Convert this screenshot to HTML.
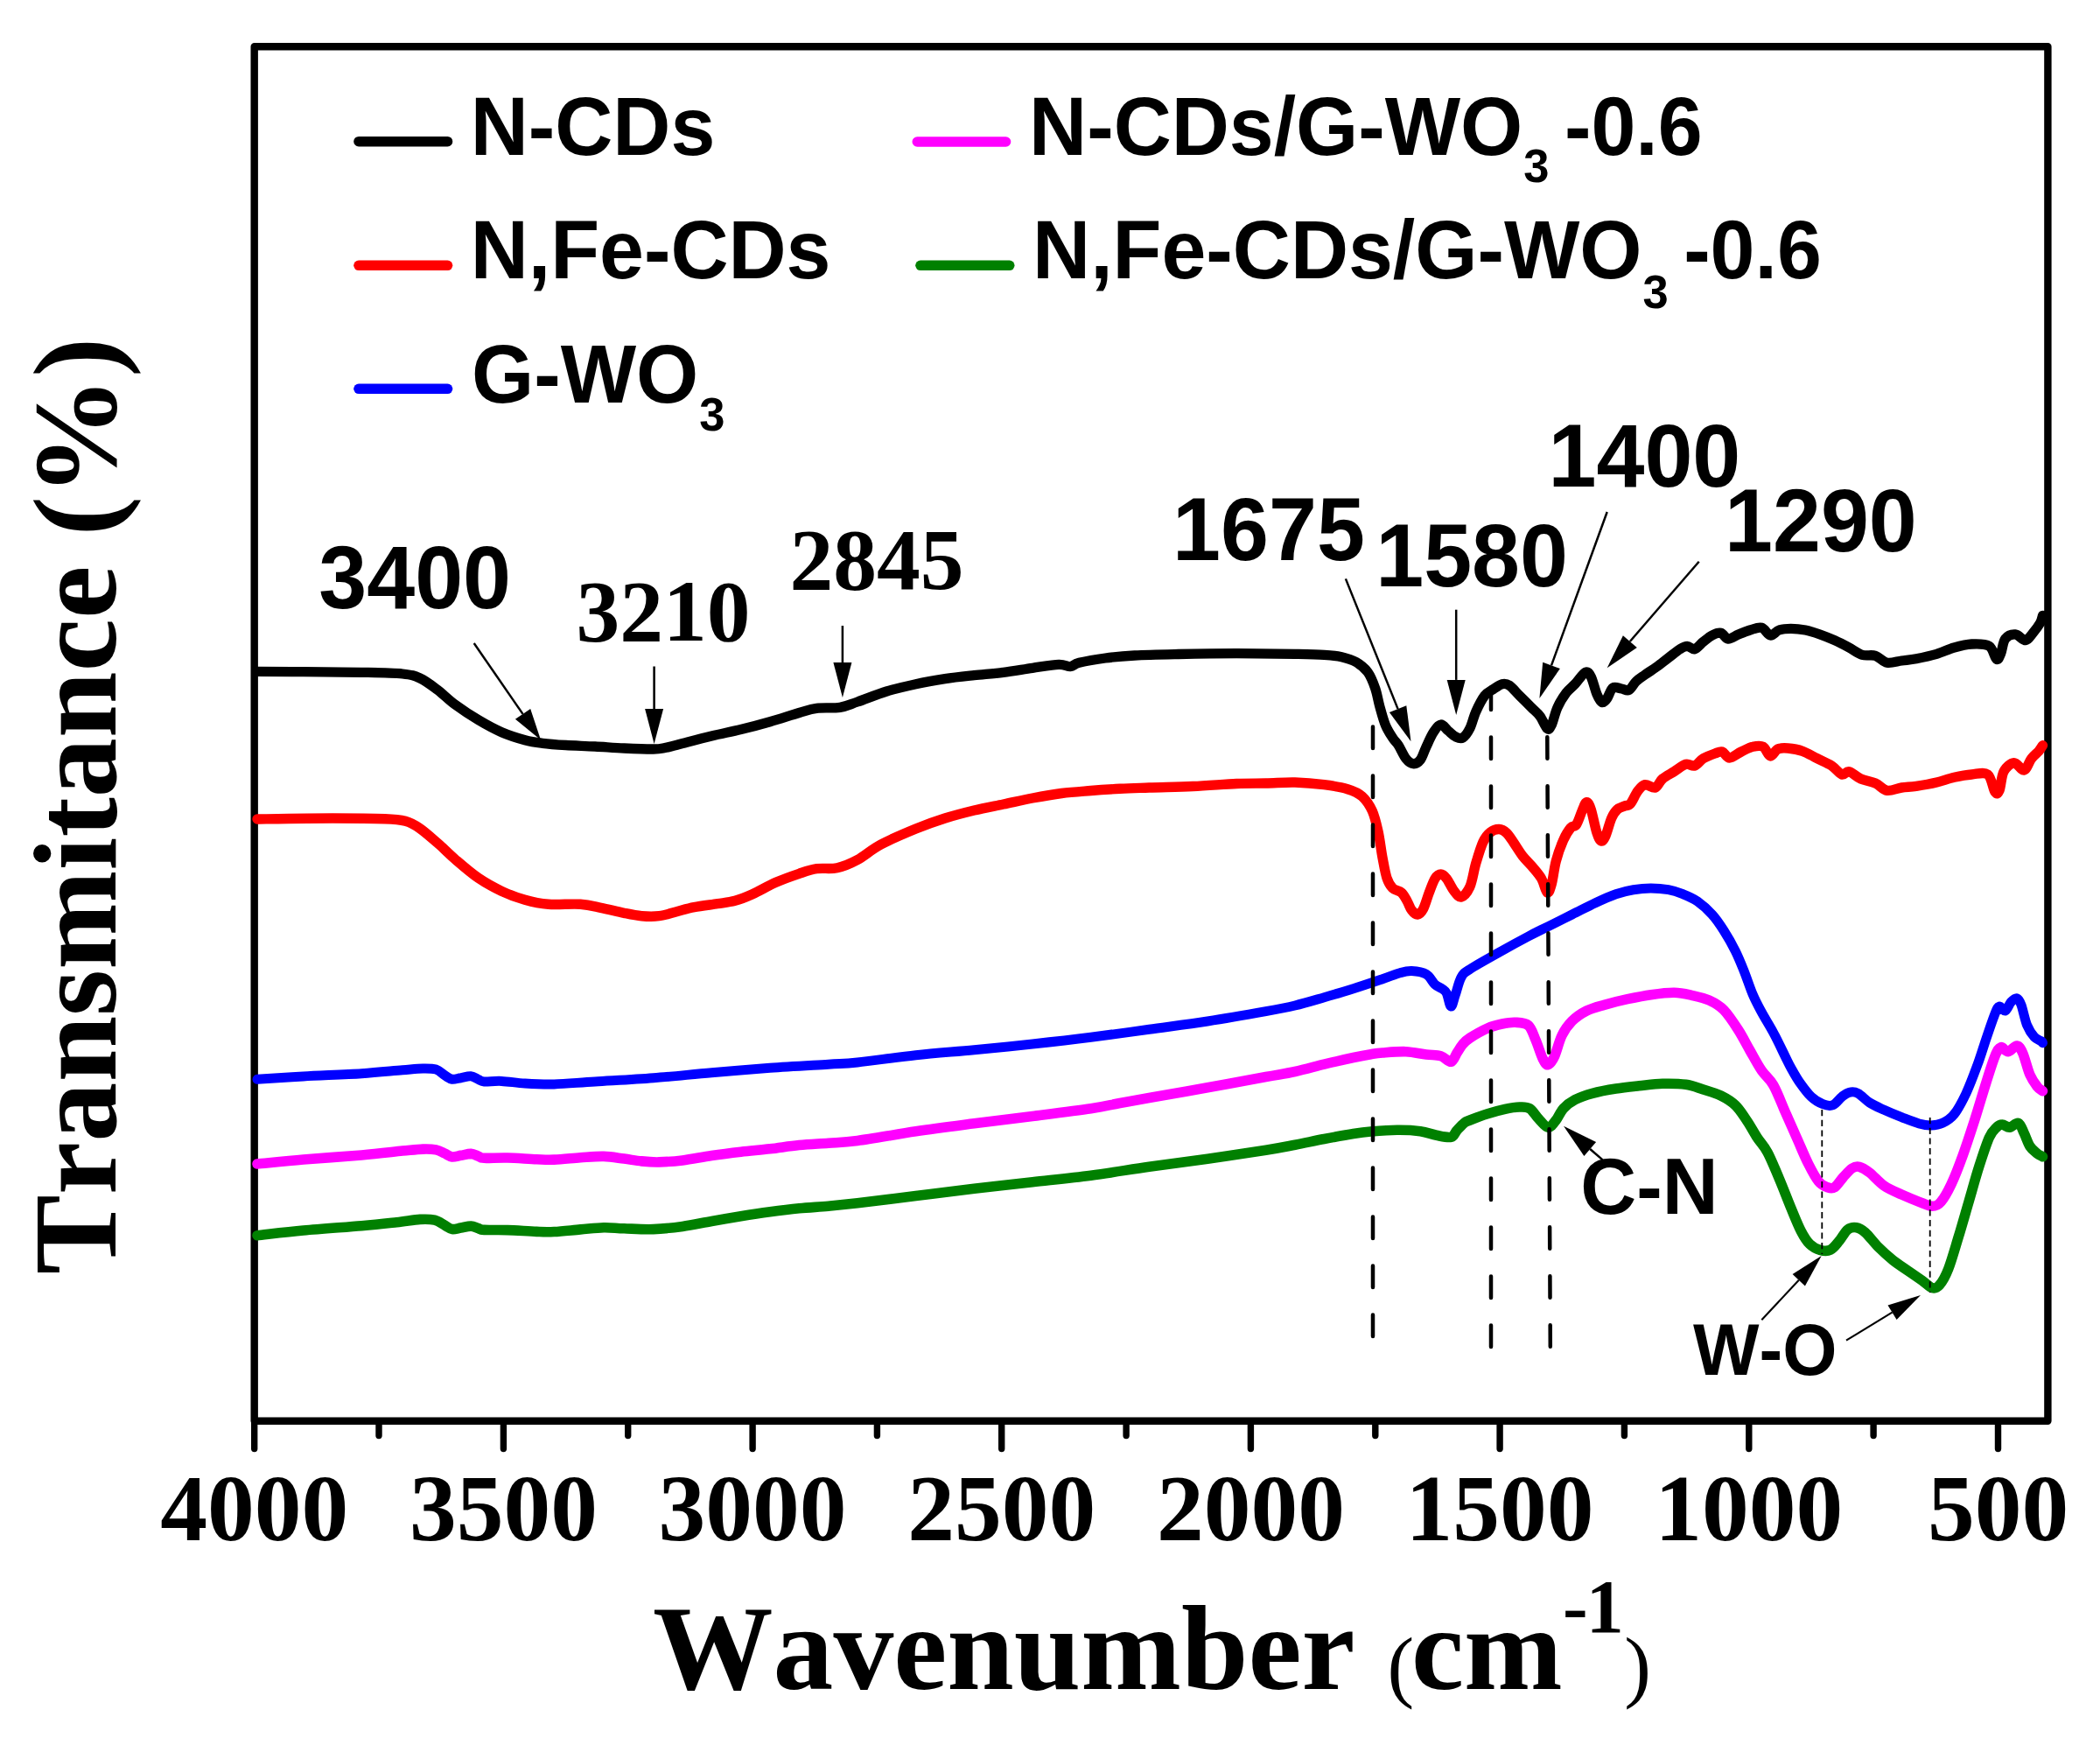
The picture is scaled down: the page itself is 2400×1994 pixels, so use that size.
<!DOCTYPE html>
<html lang="en"><head><meta charset="utf-8"><title>FTIR spectra</title>
<style>html,body{margin:0;padding:0;background:#fff}body{width:2400px;height:1994px;overflow:hidden}svg{display:block}text{font-kerning:none}.s{font-family:"Liberation Sans",Arial,Helvetica,sans-serif;font-weight:bold;fill:#000}.t{font-family:"Liberation Serif","Times New Roman",Times,serif;font-weight:bold;fill:#000}.c{fill:none;stroke-linecap:round;stroke-linejoin:round}</style></head><body>
<svg width="2400" height="1994" viewBox="0 0 2400 1994">
<rect width="2400" height="1994" fill="#fff"/>
<rect x="290.7" y="53.3" width="2049.7" height="1570.4" fill="none" stroke="#000" stroke-width="8.4" stroke-linejoin="round"/>
<path d="M290.7 1623.7 V1655.5M433.0 1623.7 V1640.5M575.4 1623.7 V1655.5M717.7 1623.7 V1640.5M860.1 1623.7 V1655.5M1002.4 1623.7 V1640.5M1144.7 1623.7 V1655.5M1287.1 1623.7 V1640.5M1429.4 1623.7 V1655.5M1571.8 1623.7 V1640.5M1714.1 1623.7 V1655.5M1856.4 1623.7 V1640.5M1998.8 1623.7 V1655.5M2141.1 1623.7 V1640.5M2283.5 1623.7 V1655.5" stroke="#000" stroke-width="7.4" stroke-linecap="round" fill="none"/>
<path class="c" d="M294.0 767.3C302.8 767.4 326.8 767.5 346.7 767.7C366.6 767.9 394.4 767.9 413.3 768.3C432.2 768.7 448.9 768.9 460.0 770.0C471.1 771.1 473.3 772.0 480.0 775.0C486.7 778.0 493.3 783.3 500.0 788.3C506.7 793.3 512.2 799.3 520.0 805.0C527.8 810.7 537.8 817.4 546.7 822.7C555.6 828.0 564.4 832.9 573.3 836.7C582.2 840.5 592.2 843.6 600.0 845.7C607.8 847.8 612.2 848.3 620.0 849.3C627.8 850.3 636.7 850.9 646.7 851.5C656.7 852.1 668.9 852.4 680.0 853.0C691.1 853.6 702.2 854.5 713.3 855.0C724.4 855.5 738.9 856.1 746.7 856.0C754.5 855.9 754.5 855.6 760.0 854.5C765.5 853.4 771.1 851.8 780.0 849.5C788.9 847.2 802.2 843.7 813.3 841.0C824.4 838.3 835.6 836.2 846.7 833.5C857.8 830.8 868.9 827.9 880.0 824.7C891.1 821.5 904.4 817.1 913.3 814.5C922.2 811.9 925.5 810.3 933.3 809.3C941.1 808.3 952.2 809.5 960.0 808.3C967.8 807.1 971.1 805.0 980.0 802.0C988.9 799.0 1002.2 793.4 1013.3 790.0C1024.4 786.6 1035.6 784.1 1046.7 781.7C1057.8 779.3 1068.9 777.4 1080.0 775.7C1091.1 774.0 1102.2 772.9 1113.3 771.7C1124.4 770.5 1135.6 769.7 1146.7 768.3C1157.8 766.9 1169.5 764.8 1180.0 763.3C1190.5 761.8 1202.8 759.6 1210.0 759.3C1217.2 759.0 1219.4 762.0 1223.3 761.7C1227.2 761.4 1226.6 758.9 1233.3 757.3C1240.0 755.7 1252.7 753.4 1263.3 752.0C1273.9 750.6 1282.8 749.8 1296.7 749.0C1310.6 748.2 1327.3 747.9 1346.7 747.5C1366.1 747.1 1391.1 746.7 1413.3 746.7C1435.5 746.7 1463.3 747.0 1480.0 747.3C1496.7 747.6 1504.4 747.7 1513.3 748.3C1522.2 748.9 1527.2 749.3 1533.3 750.7C1539.4 752.1 1545.0 753.8 1550.0 756.7C1555.0 759.6 1559.7 763.3 1563.3 768.3C1566.9 773.3 1569.5 780.3 1571.7 786.7C1573.9 793.1 1574.8 799.8 1576.7 806.7C1578.6 813.6 1580.8 822.2 1583.3 828.3C1585.8 834.4 1589.2 839.4 1591.7 843.3C1594.2 847.2 1595.8 847.8 1598.3 851.7C1600.8 855.6 1603.9 863.2 1606.7 866.7C1609.5 870.2 1612.2 872.4 1615.0 872.7C1617.8 873.0 1620.8 871.5 1623.3 868.3C1625.8 865.1 1627.5 858.6 1630.0 853.3C1632.5 848.0 1635.5 840.9 1638.3 836.7C1641.1 832.5 1643.9 828.3 1646.7 828.0C1649.5 827.7 1652.2 832.7 1655.0 835.0C1657.8 837.3 1660.5 840.4 1663.3 841.7C1666.1 843.0 1668.9 844.6 1671.7 843.0C1674.5 841.4 1677.5 837.0 1680.0 832.0C1682.5 827.0 1683.9 819.5 1686.7 813.3C1689.5 807.1 1693.4 799.3 1696.7 795.0C1700.0 790.7 1703.4 789.7 1706.7 787.5C1710.0 785.3 1713.7 782.4 1716.7 781.7C1719.8 781.0 1721.7 781.1 1725.0 783.3C1728.3 785.5 1732.5 790.8 1736.7 795.0C1740.9 799.2 1746.1 804.4 1750.0 808.3C1753.9 812.2 1757.0 814.3 1760.0 818.3C1763.0 822.3 1766.1 830.8 1768.3 832.5C1770.5 834.2 1771.3 832.3 1773.3 828.3C1775.2 824.3 1777.2 814.4 1780.0 808.3C1782.8 802.2 1786.7 796.1 1790.0 791.7C1793.3 787.3 1796.4 785.6 1800.0 781.7C1803.6 777.8 1808.7 769.7 1811.7 768.3C1814.8 766.9 1816.1 769.1 1818.3 773.3C1820.5 777.5 1822.9 788.4 1825.0 793.3C1827.1 798.2 1828.8 801.7 1830.7 802.5C1832.7 803.3 1834.6 800.8 1836.7 798.0C1838.8 795.2 1840.5 787.8 1843.3 786.0C1846.1 784.2 1850.2 786.6 1853.3 787.0C1856.4 787.4 1858.9 789.9 1861.7 788.5C1864.5 787.1 1867.0 781.4 1870.0 778.5C1873.0 775.6 1876.1 773.8 1880.0 771.0C1883.9 768.2 1888.8 765.2 1893.3 762.0C1897.8 758.8 1902.2 755.1 1906.7 751.7C1911.2 748.3 1916.4 743.9 1920.0 741.7C1923.6 739.5 1925.5 738.3 1928.3 738.3C1931.1 738.3 1933.6 742.5 1936.7 741.7C1939.8 740.9 1943.4 735.9 1946.7 733.3C1950.0 730.7 1953.4 727.7 1956.7 726.0C1960.0 724.3 1963.7 722.6 1966.7 723.3C1969.8 724.0 1971.7 729.7 1975.0 730.0C1978.3 730.3 1982.5 726.7 1986.7 725.0C1990.9 723.3 1995.6 721.3 2000.0 720.0C2004.4 718.7 2009.4 716.3 2013.3 717.3C2017.2 718.3 2020.0 725.5 2023.3 726.0C2026.6 726.5 2029.4 721.3 2033.3 720.0C2037.2 718.7 2041.7 718.3 2046.7 718.3C2051.7 718.3 2057.8 718.9 2063.3 720.0C2068.9 721.1 2074.4 723.0 2080.0 725.0C2085.6 727.0 2091.1 729.2 2096.7 731.7C2102.2 734.2 2108.0 737.2 2113.3 740.0C2118.6 742.8 2123.3 746.8 2128.3 748.3C2133.3 749.8 2138.6 747.8 2143.3 749.3C2148.0 750.8 2151.7 756.3 2156.7 757.3C2161.7 758.2 2167.8 755.8 2173.3 755.0C2178.9 754.2 2183.3 754.0 2190.0 752.7C2196.7 751.4 2206.1 749.4 2213.3 747.3C2220.5 745.2 2226.6 741.9 2233.3 740.0C2240.0 738.1 2246.6 736.3 2253.3 736.0C2260.0 735.7 2268.6 735.4 2273.3 738.3C2278.0 741.2 2279.5 751.9 2281.7 753.3C2283.9 754.7 2285.0 750.6 2286.7 746.7C2288.4 742.8 2288.9 733.6 2291.7 730.0C2294.5 726.4 2299.4 724.7 2303.3 725.0C2307.2 725.3 2311.7 732.0 2315.0 731.7C2318.3 731.4 2320.5 726.6 2323.3 723.3C2326.1 720.0 2329.8 715.0 2331.7 711.7C2333.6 708.4 2334.0 704.7 2334.5 703.3" stroke="#000" stroke-width="11.3"/>
<path class="c" d="M294.0 936.0C308.3 935.8 355.7 935.0 380.0 935.0C404.3 935.0 426.1 935.2 440.0 935.7C453.9 936.2 456.6 936.5 463.3 938.3C470.0 940.1 473.9 942.5 480.0 946.7C486.1 950.9 493.3 957.5 500.0 963.3C506.7 969.1 512.2 975.0 520.0 981.7C527.8 988.4 537.8 997.2 546.7 1003.3C555.6 1009.4 564.4 1014.1 573.3 1018.3C582.2 1022.5 591.1 1025.8 600.0 1028.3C608.9 1030.8 616.2 1032.5 626.7 1033.3C637.2 1034.1 653.3 1032.6 663.3 1033.3C673.3 1034.0 678.4 1035.6 686.7 1037.3C695.0 1039.0 705.5 1041.7 713.3 1043.3C721.1 1044.9 726.6 1046.1 733.3 1046.7C740.0 1047.3 746.6 1047.5 753.3 1046.7C760.0 1045.9 766.6 1043.4 773.3 1041.7C780.0 1040.0 785.5 1038.2 793.3 1036.7C801.1 1035.2 812.2 1033.9 820.0 1032.7C827.8 1031.5 833.3 1031.1 840.0 1029.3C846.7 1027.5 852.2 1025.2 860.0 1021.7C867.8 1018.2 877.8 1012.2 886.7 1008.3C895.6 1004.4 905.5 1000.9 913.3 998.3C921.1 995.7 926.1 993.8 933.3 992.7C940.5 991.6 948.9 993.4 956.7 991.7C964.5 990.0 971.7 987.0 980.0 982.5C988.3 978.0 995.6 970.9 1006.7 965.0C1017.8 959.1 1034.5 952.0 1046.7 947.0C1058.9 942.0 1068.9 938.5 1080.0 935.0C1091.1 931.5 1102.2 928.7 1113.3 926.0C1124.4 923.3 1135.6 921.3 1146.7 919.0C1157.8 916.7 1168.9 914.1 1180.0 912.0C1191.1 909.9 1202.2 907.9 1213.3 906.5C1224.4 905.1 1235.6 904.4 1246.7 903.5C1257.8 902.6 1268.9 901.9 1280.0 901.3C1291.1 900.7 1299.4 900.5 1313.3 900.0C1327.2 899.5 1346.6 899.2 1363.3 898.5C1380.0 897.8 1399.4 896.1 1413.3 895.5C1427.2 894.9 1435.6 895.2 1446.7 895.0C1457.8 894.8 1468.9 893.7 1480.0 894.0C1491.1 894.3 1503.3 895.4 1513.3 896.7C1523.3 898.0 1532.8 899.5 1540.0 901.7C1547.2 903.9 1552.0 905.8 1556.7 910.0C1561.4 914.2 1565.2 920.0 1568.3 926.7C1571.3 933.4 1573.0 941.1 1575.0 950.0C1577.0 958.9 1578.3 971.1 1580.0 980.0C1581.7 988.9 1583.0 997.5 1585.0 1003.3C1587.0 1009.1 1588.9 1012.2 1591.7 1015.0C1594.5 1017.8 1598.9 1017.5 1601.7 1020.0C1604.5 1022.5 1606.4 1026.7 1608.3 1030.0C1610.2 1033.3 1611.3 1037.5 1613.3 1040.0C1615.2 1042.5 1617.8 1045.3 1620.0 1045.0C1622.2 1044.7 1624.5 1042.5 1626.7 1038.3C1628.9 1034.1 1631.1 1025.7 1633.3 1020.0C1635.5 1014.3 1637.8 1007.5 1640.0 1004.0C1642.2 1000.5 1644.5 999.0 1646.7 999.0C1648.9 999.0 1650.8 1000.8 1653.3 1004.0C1655.8 1007.2 1658.9 1014.5 1661.7 1018.0C1664.5 1021.5 1667.0 1025.8 1670.0 1025.0C1673.0 1024.2 1677.2 1019.4 1680.0 1013.0C1682.8 1006.6 1684.2 995.2 1686.7 986.7C1689.2 978.2 1692.2 968.0 1695.0 962.0C1697.8 956.0 1700.2 953.4 1703.3 951.0C1706.3 948.6 1710.2 947.4 1713.3 947.5C1716.4 947.6 1718.9 949.1 1721.7 951.7C1724.5 954.3 1727.0 958.6 1730.0 963.0C1733.0 967.4 1736.4 973.3 1740.0 978.0C1743.6 982.7 1748.1 986.7 1751.7 991.0C1755.3 995.3 1758.9 999.2 1761.7 1004.0C1764.5 1008.8 1766.4 1019.0 1768.3 1020.0C1770.2 1021.0 1771.6 1016.0 1773.3 1010.0C1775.0 1004.0 1776.1 992.3 1778.3 984.0C1780.5 975.7 1783.9 966.3 1786.7 960.0C1789.5 953.7 1792.5 949.0 1795.0 946.0C1797.5 943.0 1799.5 945.3 1801.7 942.0C1803.9 938.7 1806.4 930.2 1808.3 926.0C1810.2 921.8 1811.6 916.9 1813.3 916.7C1815.0 916.5 1816.3 919.2 1818.3 925.0C1820.2 930.8 1823.0 945.7 1825.0 951.7C1827.0 957.7 1828.3 960.5 1830.0 961.0C1831.7 961.5 1833.0 959.3 1835.0 955.0C1837.0 950.7 1839.5 940.0 1841.7 935.0C1843.9 930.0 1845.8 927.3 1848.3 925.0C1850.8 922.7 1854.2 922.1 1856.7 921.0C1859.2 919.9 1860.8 921.3 1863.3 918.5C1865.8 915.7 1868.9 907.6 1871.7 904.0C1874.5 900.4 1876.7 897.4 1880.0 896.7C1883.3 896.0 1888.4 901.1 1891.7 900.0C1895.0 898.9 1896.4 893.0 1900.0 890.0C1903.6 887.0 1908.8 884.5 1913.3 881.7C1917.8 878.9 1922.8 874.4 1926.7 873.3C1930.6 872.2 1933.4 876.1 1936.7 875.0C1940.0 873.9 1942.8 869.0 1946.7 866.7C1950.6 864.4 1956.4 862.3 1960.0 861.0C1963.6 859.7 1965.5 858.2 1968.3 859.0C1971.1 859.8 1973.1 866.0 1976.7 866.0C1980.3 866.0 1985.6 861.1 1990.0 859.0C1994.4 856.9 1999.1 854.2 2003.3 853.3C2007.5 852.3 2011.7 851.5 2015.0 853.3C2018.3 855.1 2020.5 863.5 2023.3 864.0C2026.1 864.5 2028.4 857.5 2031.7 856.0C2035.0 854.5 2038.6 854.6 2043.3 855.0C2048.0 855.4 2054.4 856.3 2060.0 858.3C2065.6 860.2 2071.1 863.9 2076.7 866.7C2082.2 869.5 2088.6 872.0 2093.3 875.0C2098.0 878.0 2101.7 883.9 2105.0 885.0C2108.3 886.1 2109.7 880.9 2113.3 881.7C2116.9 882.5 2121.7 887.8 2126.7 890.0C2131.7 892.2 2138.3 892.8 2143.3 895.0C2148.3 897.2 2151.7 902.5 2156.7 903.3C2161.7 904.1 2167.8 900.8 2173.3 900.0C2178.9 899.2 2183.3 899.3 2190.0 898.3C2196.7 897.3 2206.1 895.7 2213.3 894.0C2220.5 892.3 2226.6 889.8 2233.3 888.3C2240.0 886.8 2246.9 885.5 2253.3 885.0C2259.7 884.5 2267.2 881.7 2271.7 885.0C2276.1 888.3 2277.8 902.0 2280.0 905.0C2282.2 908.0 2283.3 907.2 2285.0 903.3C2286.7 899.4 2287.2 887.0 2290.0 881.7C2292.8 876.4 2297.8 872.0 2301.7 871.7C2305.6 871.4 2310.0 880.8 2313.3 880.0C2316.6 879.2 2318.9 870.3 2321.7 866.7C2324.5 863.1 2327.9 860.8 2330.0 858.3C2332.1 855.8 2333.8 852.8 2334.5 851.7" stroke="#f00" stroke-width="11.4"/>
<path class="c" d="M294.0 1233.3C302.8 1232.8 326.8 1231.1 346.7 1230.0C366.6 1228.9 394.4 1227.9 413.3 1226.7C432.2 1225.5 448.3 1223.7 460.0 1222.8C471.7 1221.8 476.9 1221.1 483.3 1221.0C489.7 1220.9 494.1 1220.8 498.3 1222.1C502.5 1223.4 505.2 1226.9 508.3 1228.8C511.4 1230.7 513.6 1232.8 516.7 1233.3C519.8 1233.7 523.1 1232.2 526.7 1231.7C530.3 1231.1 535.0 1229.4 538.3 1229.8C541.6 1230.1 544.2 1232.5 546.7 1233.5C549.2 1234.6 548.9 1235.6 553.3 1235.9C557.7 1236.2 565.5 1235.0 573.3 1235.4C581.1 1235.7 590.0 1237.4 600.0 1238.0C610.0 1238.6 620.0 1239.2 633.3 1238.9C646.6 1238.5 661.1 1237.1 680.0 1236.0C698.9 1234.8 724.5 1233.6 746.7 1231.8C768.9 1230.1 791.1 1227.6 813.3 1225.7C835.5 1223.8 857.8 1221.9 880.0 1220.3C902.2 1218.7 930.0 1217.3 946.7 1216.3C963.4 1215.2 963.3 1215.8 980.0 1214.0C996.7 1212.2 1024.5 1208.1 1046.7 1205.7C1068.9 1203.3 1091.1 1201.8 1113.3 1199.7C1135.5 1197.6 1157.8 1195.4 1180.0 1193.0C1202.2 1190.6 1224.5 1188.1 1246.7 1185.3C1268.9 1182.5 1291.1 1179.3 1313.3 1176.3C1335.5 1173.2 1357.8 1170.4 1380.0 1167.0C1402.2 1163.6 1430.0 1158.7 1446.7 1155.7C1463.4 1152.7 1468.9 1151.7 1480.0 1149.0C1491.1 1146.3 1502.2 1142.9 1513.3 1139.7C1524.4 1136.5 1535.6 1133.2 1546.7 1129.7C1557.8 1126.2 1571.1 1121.7 1580.0 1118.7C1588.9 1115.7 1594.5 1113.2 1600.0 1111.7C1605.5 1110.2 1608.3 1109.4 1613.3 1109.6C1618.3 1109.9 1625.5 1110.7 1630.0 1113.3C1634.5 1115.9 1637.0 1122.2 1640.0 1125.0C1643.0 1127.8 1646.1 1128.3 1648.3 1130.0C1650.5 1131.7 1651.6 1131.7 1653.3 1135.0C1655.0 1138.3 1656.6 1149.7 1658.3 1150.0C1660.0 1150.3 1661.3 1142.2 1663.3 1136.7C1665.2 1131.2 1667.2 1121.6 1670.0 1116.7C1672.8 1111.8 1672.8 1112.2 1680.0 1107.5C1687.2 1102.8 1702.2 1094.5 1713.3 1088.3C1724.4 1082.0 1737.2 1075.0 1746.7 1070.0C1756.2 1065.0 1761.7 1062.5 1770.0 1058.3C1778.3 1054.1 1787.8 1049.4 1796.7 1045.0C1805.6 1040.6 1815.0 1035.6 1823.3 1031.7C1831.6 1027.8 1839.5 1024.2 1846.7 1021.7C1853.9 1019.2 1860.0 1017.8 1866.7 1016.7C1873.4 1015.6 1880.0 1015.0 1886.7 1015.0C1893.4 1015.0 1900.6 1015.6 1906.7 1016.7C1912.8 1017.8 1917.8 1019.5 1923.3 1021.7C1928.8 1023.9 1934.4 1026.1 1940.0 1030.0C1945.6 1033.9 1951.7 1039.5 1956.7 1045.0C1961.7 1050.5 1965.6 1056.3 1970.0 1063.3C1974.4 1070.2 1979.4 1078.9 1983.3 1086.7C1987.2 1094.5 1990.0 1101.7 1993.3 1110.0C1996.6 1118.3 2000.0 1128.9 2003.3 1136.7C2006.6 1144.5 2009.4 1149.5 2013.3 1156.7C2017.2 1163.9 2022.2 1171.7 2026.7 1180.0C2031.2 1188.3 2036.7 1200.0 2040.0 1206.7C2043.3 1213.4 2043.9 1215.0 2046.7 1220.0C2049.5 1225.0 2052.8 1231.2 2056.7 1236.7C2060.6 1242.2 2065.6 1249.1 2070.0 1253.3C2074.4 1257.5 2079.1 1260.1 2083.3 1261.7C2087.5 1263.3 2091.4 1264.1 2095.0 1262.7C2098.6 1261.3 2101.9 1255.7 2105.0 1253.3C2108.1 1250.9 2110.2 1249.0 2113.3 1248.3C2116.4 1247.6 2119.4 1247.3 2123.3 1249.3C2127.2 1251.2 2131.7 1256.8 2136.7 1260.0C2141.7 1263.2 2147.2 1265.5 2153.3 1268.3C2159.4 1271.1 2166.6 1274.1 2173.3 1276.7C2180.0 1279.3 2187.7 1282.5 2193.3 1284.0C2198.9 1285.5 2202.2 1286.1 2206.7 1286.0C2211.1 1285.9 2215.6 1285.4 2220.0 1283.3C2224.4 1281.2 2228.9 1278.8 2233.3 1273.3C2237.8 1267.8 2242.2 1259.4 2246.7 1250.0C2251.1 1240.6 2256.1 1227.2 2260.0 1216.7C2263.9 1206.2 2266.7 1196.4 2270.0 1186.7C2273.3 1177.0 2277.5 1164.4 2280.0 1158.3C2282.5 1152.2 2283.1 1150.5 2285.0 1150.0C2286.9 1149.5 2289.5 1155.8 2291.7 1155.0C2293.9 1154.2 2296.1 1147.4 2298.3 1145.0C2300.5 1142.6 2303.1 1140.2 2305.0 1140.7C2306.9 1141.2 2308.1 1143.1 2310.0 1148.3C2311.9 1153.5 2314.2 1165.6 2316.7 1171.7C2319.2 1177.8 2322.2 1182.0 2325.0 1185.0C2327.8 1188.0 2331.7 1188.9 2333.3 1190.0C2334.9 1191.1 2334.3 1191.4 2334.5 1191.7" stroke="#00f" stroke-width="11.0"/>
<path class="c" d="M294.0 1330.0C302.8 1329.2 326.8 1326.7 346.7 1325.0C366.6 1323.3 394.4 1321.6 413.3 1320.0C432.2 1318.4 448.3 1316.3 460.0 1315.1C471.7 1314.0 476.9 1313.3 483.3 1313.1C489.7 1312.9 494.1 1313.1 498.3 1313.9C502.5 1314.7 505.2 1316.7 508.3 1318.0C511.4 1319.4 513.6 1321.5 516.7 1321.9C519.8 1322.2 523.1 1320.9 526.7 1320.3C530.3 1319.7 535.0 1318.3 538.3 1318.4C541.6 1318.6 544.2 1320.4 546.7 1321.2C549.2 1322.1 547.8 1323.0 553.3 1323.3C558.8 1323.6 570.0 1322.7 580.0 1323.0C590.0 1323.2 604.4 1324.5 613.3 1324.8C622.2 1325.1 625.0 1325.4 633.3 1325.1C641.6 1324.7 653.8 1323.4 663.3 1322.7C672.8 1322.1 681.7 1321.2 690.0 1321.4C698.3 1321.6 706.1 1323.2 713.3 1324.1C720.5 1325.0 726.6 1326.3 733.3 1326.9C740.0 1327.6 745.5 1328.1 753.3 1327.9C761.1 1327.7 770.0 1327.2 780.0 1325.9C790.0 1324.7 802.2 1322.1 813.3 1320.5C824.4 1318.9 835.6 1317.5 846.7 1316.2C857.8 1314.9 868.9 1314.1 880.0 1312.8C891.1 1311.5 902.2 1309.6 913.3 1308.5C924.4 1307.4 935.6 1307.0 946.7 1306.2C957.8 1305.4 963.3 1305.7 980.0 1303.5C996.7 1301.3 1024.5 1296.1 1046.7 1292.8C1068.9 1289.5 1091.1 1286.7 1113.3 1283.8C1135.5 1280.9 1157.8 1278.3 1180.0 1275.5C1202.2 1272.7 1230.0 1269.3 1246.7 1266.8C1263.4 1264.3 1268.9 1262.5 1280.0 1260.5C1291.1 1258.5 1296.6 1257.5 1313.3 1254.5C1330.0 1251.5 1357.8 1246.8 1380.0 1242.8C1402.2 1238.8 1430.0 1233.5 1446.7 1230.5C1463.4 1227.5 1468.9 1226.9 1480.0 1224.5C1491.1 1222.1 1502.2 1218.9 1513.3 1216.2C1524.4 1213.5 1537.8 1210.4 1546.7 1208.5C1555.6 1206.6 1561.2 1205.6 1566.7 1204.7C1572.2 1203.8 1573.3 1203.5 1580.0 1203.0C1586.7 1202.5 1598.4 1201.4 1606.7 1201.7C1615.0 1202.0 1623.3 1204.2 1630.0 1205.0C1636.7 1205.8 1642.0 1205.3 1646.7 1206.7C1651.4 1208.1 1655.2 1213.9 1658.3 1213.3C1661.3 1212.7 1662.8 1206.6 1665.0 1203.3C1667.2 1200.0 1669.2 1196.2 1671.7 1193.3C1674.2 1190.4 1675.3 1189.0 1680.0 1186.0C1684.7 1183.0 1693.9 1177.7 1700.0 1175.0C1706.1 1172.3 1711.4 1171.1 1716.7 1170.0C1722.0 1168.9 1726.7 1168.0 1731.7 1168.3C1736.7 1168.6 1742.8 1168.4 1746.7 1171.7C1750.6 1175.0 1752.2 1181.9 1755.0 1188.3C1757.8 1194.7 1760.9 1205.3 1763.3 1210.0C1765.7 1214.7 1767.1 1217.2 1769.3 1216.7C1771.5 1216.2 1774.1 1212.3 1776.7 1206.7C1779.3 1201.1 1781.7 1190.0 1785.0 1183.3C1788.3 1176.6 1792.0 1171.4 1796.7 1166.7C1801.4 1162.0 1807.2 1158.1 1813.3 1155.0C1819.4 1151.9 1825.5 1150.5 1833.3 1148.3C1841.1 1146.1 1851.1 1143.6 1860.0 1141.7C1868.9 1139.8 1877.8 1137.9 1886.7 1136.7C1895.6 1135.5 1905.5 1134.2 1913.3 1134.3C1921.1 1134.4 1926.6 1135.8 1933.3 1137.3C1940.0 1138.8 1947.2 1140.2 1953.3 1143.0C1959.4 1145.8 1964.4 1148.3 1970.0 1154.0C1975.6 1159.7 1981.7 1169.2 1986.7 1177.0C1991.7 1184.8 1995.6 1192.8 2000.0 1200.5C2004.4 1208.2 2008.8 1216.7 2013.3 1223.3C2017.8 1229.9 2022.2 1232.2 2026.7 1240.0C2031.2 1247.8 2035.6 1260.0 2040.0 1270.0C2044.4 1280.0 2048.9 1290.0 2053.3 1300.0C2057.8 1310.0 2062.5 1321.7 2066.7 1330.0C2070.9 1338.3 2074.7 1345.5 2078.3 1350.0C2081.9 1354.5 2085.2 1355.6 2088.3 1356.7C2091.4 1357.8 2093.6 1358.7 2096.7 1356.7C2099.8 1354.8 2103.4 1348.6 2106.7 1345.0C2110.0 1341.4 2113.6 1337.0 2116.7 1335.0C2119.8 1333.0 2121.7 1332.5 2125.0 1333.3C2128.3 1334.1 2132.0 1336.4 2136.7 1340.0C2141.4 1343.6 2147.2 1350.8 2153.3 1355.0C2159.4 1359.2 2166.6 1362.0 2173.3 1365.0C2180.0 1368.0 2187.5 1371.1 2193.3 1373.3C2199.1 1375.5 2204.1 1378.3 2208.3 1378.3C2212.5 1378.3 2214.7 1377.5 2218.3 1373.3C2221.9 1369.1 2225.8 1362.2 2230.0 1353.3C2234.2 1344.4 2238.9 1332.2 2243.3 1320.0C2247.8 1307.8 2252.2 1293.9 2256.7 1280.0C2261.1 1266.1 2266.1 1248.9 2270.0 1236.7C2273.9 1224.5 2277.2 1213.4 2280.0 1206.7C2282.8 1200.0 2284.2 1197.5 2286.7 1196.7C2289.2 1195.9 2291.9 1202.0 2295.0 1201.7C2298.1 1201.4 2302.2 1194.7 2305.0 1195.0C2307.8 1195.3 2309.2 1197.8 2311.7 1203.3C2314.2 1208.8 2317.2 1221.9 2320.0 1228.3C2322.8 1234.7 2325.9 1238.6 2328.3 1241.7C2330.7 1244.8 2333.5 1245.9 2334.5 1246.7" stroke="#f0f" stroke-width="11.6"/>
<path class="c" d="M294.0 1411.7C302.8 1410.8 326.8 1407.8 346.7 1406.0C366.6 1404.2 395.5 1402.2 413.3 1400.7C431.1 1399.2 442.2 1397.9 453.3 1396.7C464.4 1395.5 472.8 1393.8 480.0 1393.4C487.2 1393.0 492.0 1393.1 496.7 1394.2C501.4 1395.3 505.0 1398.5 508.3 1400.2C511.6 1402.0 513.6 1404.1 516.7 1404.6C519.8 1405.0 523.1 1403.6 526.7 1403.0C530.3 1402.4 535.0 1401.0 538.3 1401.1C541.6 1401.2 544.2 1403.0 546.7 1403.7C549.2 1404.4 547.8 1405.1 553.3 1405.4C558.8 1405.7 570.0 1405.2 580.0 1405.6C590.0 1405.9 604.4 1407.1 613.3 1407.4C622.2 1407.7 625.0 1407.9 633.3 1407.5C641.6 1407.1 653.8 1405.7 663.3 1404.9C672.8 1404.1 681.7 1402.9 690.0 1402.7C698.3 1402.5 703.8 1403.5 713.3 1403.8C722.8 1404.1 735.6 1405.0 746.7 1404.6C757.8 1404.2 768.9 1402.9 780.0 1401.4C791.1 1399.9 802.2 1397.4 813.3 1395.5C824.4 1393.6 835.6 1391.6 846.7 1389.8C857.8 1388.0 868.9 1386.3 880.0 1384.8C891.1 1383.3 902.2 1381.9 913.3 1380.8C924.4 1379.7 935.6 1379.2 946.7 1378.2C957.8 1377.2 963.3 1376.8 980.0 1374.8C996.7 1372.8 1024.5 1369.3 1046.7 1366.5C1068.9 1363.7 1091.1 1360.8 1113.3 1358.2C1135.5 1355.6 1157.8 1353.3 1180.0 1350.8C1202.2 1348.3 1224.5 1346.1 1246.7 1343.2C1268.9 1340.3 1291.1 1336.4 1313.3 1333.2C1335.5 1330.0 1357.8 1327.4 1380.0 1324.2C1402.2 1321.0 1430.0 1316.9 1446.7 1314.2C1463.4 1311.5 1468.9 1310.3 1480.0 1308.2C1491.1 1306.1 1502.2 1303.6 1513.3 1301.5C1524.4 1299.4 1537.8 1296.9 1546.7 1295.5C1555.6 1294.1 1558.4 1293.7 1566.7 1293.0C1575.0 1292.3 1587.3 1291.3 1596.7 1291.3C1606.1 1291.2 1615.8 1291.7 1623.3 1292.7C1630.8 1293.7 1635.9 1296.2 1641.7 1297.3C1647.5 1298.4 1654.4 1300.2 1658.3 1299.3C1662.2 1298.4 1662.5 1294.4 1665.0 1291.7C1667.5 1289.0 1670.8 1285.2 1673.3 1283.3C1675.8 1281.3 1675.5 1281.8 1680.0 1280.0C1684.5 1278.2 1693.3 1274.8 1700.0 1272.7C1706.7 1270.6 1713.9 1268.6 1720.0 1267.3C1726.1 1266.0 1732.0 1265.1 1736.7 1265.0C1741.4 1264.9 1744.7 1264.5 1748.3 1266.7C1751.9 1268.9 1754.8 1274.7 1758.3 1278.3C1761.8 1281.9 1766.0 1288.0 1769.3 1288.3C1772.6 1288.6 1775.4 1283.6 1778.3 1280.0C1781.2 1276.4 1783.1 1270.6 1786.7 1266.7C1790.3 1262.8 1794.5 1259.6 1800.0 1256.7C1805.5 1253.8 1812.2 1251.4 1820.0 1249.3C1827.8 1247.2 1837.8 1245.4 1846.7 1244.0C1855.6 1242.6 1864.4 1241.7 1873.3 1240.7C1882.2 1239.8 1891.1 1238.5 1900.0 1238.3C1908.9 1238.1 1918.9 1238.2 1926.7 1239.3C1934.5 1240.4 1940.0 1242.9 1946.7 1245.0C1953.4 1247.1 1960.6 1249.0 1966.7 1252.0C1972.8 1255.0 1978.3 1258.2 1983.3 1263.0C1988.3 1267.8 1992.5 1274.8 1996.7 1281.0C2000.9 1287.2 2004.4 1294.0 2008.3 1300.0C2012.2 1306.0 2015.8 1308.9 2020.0 1316.7C2024.2 1324.5 2028.8 1336.2 2033.3 1346.7C2037.8 1357.2 2042.5 1370.0 2046.7 1380.0C2050.9 1390.0 2054.7 1399.8 2058.3 1406.7C2061.9 1413.7 2064.7 1418.1 2068.3 1421.7C2071.9 1425.3 2076.1 1427.2 2080.0 1428.3C2083.9 1429.4 2088.1 1430.0 2091.7 1428.3C2095.3 1426.6 2098.4 1422.2 2101.7 1418.3C2105.0 1414.4 2108.4 1407.6 2111.7 1405.0C2115.0 1402.4 2118.4 1402.2 2121.7 1402.7C2125.0 1403.2 2127.5 1404.6 2131.7 1408.3C2135.9 1412.0 2141.4 1419.7 2146.7 1425.0C2152.0 1430.3 2157.8 1435.5 2163.3 1440.0C2168.9 1444.5 2174.4 1447.8 2180.0 1451.7C2185.6 1455.6 2192.0 1460.0 2196.7 1463.3C2201.4 1466.6 2205.0 1470.9 2208.3 1471.7C2211.6 1472.5 2213.6 1471.9 2216.7 1468.3C2219.8 1464.7 2223.1 1459.2 2226.7 1450.0C2230.3 1440.8 2234.4 1426.1 2238.3 1413.3C2242.2 1400.5 2246.1 1386.6 2250.0 1373.3C2253.9 1360.0 2257.8 1345.5 2261.7 1333.3C2265.6 1321.1 2270.0 1307.5 2273.3 1300.0C2276.6 1292.5 2279.2 1290.8 2281.7 1288.3C2284.2 1285.8 2285.8 1285.0 2288.3 1285.0C2290.8 1285.0 2293.6 1288.6 2296.7 1288.3C2299.8 1288.0 2303.9 1282.2 2306.7 1283.3C2309.5 1284.4 2311.1 1290.5 2313.3 1295.0C2315.5 1299.5 2317.5 1306.1 2320.0 1310.0C2322.5 1313.9 2325.9 1316.3 2328.3 1318.3C2330.7 1320.2 2333.5 1321.1 2334.5 1321.7" stroke="#008000" stroke-width="11.6"/>
<g stroke="#000" fill="none" stroke-linecap="round">
<path d="M1569 830.5 V1527" stroke-width="4.5" stroke-dasharray="24.5 31.5"/>
<path d="M1704 786.5 V1539" stroke-width="4.5" stroke-dasharray="24.5 31.5"/>
<path d="M1768.3 842.3 L1771.8 1539" stroke-width="4.5" stroke-dasharray="24.5 31.5"/>
</g><g stroke="#000" fill="none">
<path d="M2082.3 1268 V1433" stroke-width="1.8" stroke-dasharray="7.2 4.5"/>
<path d="M2205.7 1277 V1477" stroke-width="1.8" stroke-dasharray="7.2 4.5"/>
</g>
<g class="c" stroke-width="11.6">
<path d="M410 161.7 H511.5" stroke="#000"/>
<path d="M410 303.3 H511.5" stroke="#f00"/>
<path d="M410 444.3 H511.5" stroke="#00f"/>
<path d="M1048.3 162 H1149.5" stroke="#f0f"/>
<path d="M1052 303.3 H1153.7" stroke="#008000"/>
</g>
<text class="s" font-size="91.5" transform="translate(537.7 177.3) scale(1 1.032)">N-CDs</text>
<text class="s" font-size="91.5" transform="translate(537.7 318.3) scale(1 1.032)">N,Fe-CDs</text>
<text class="s" font-size="91.5" transform="translate(539.0 460.0) scale(1 1.032)">G-WO<tspan font-size="52.5" dx="1" dy="30.6">3</tspan></text>
<text class="s" font-size="91.5" transform="translate(1176.1 177.3) scale(1 1.032)">N-CDs/G-WO<tspan font-size="52.5" dx="1" dy="30">3</tspan><tspan dx="17.5" dy="-30">-0.6</tspan></text>
<text class="s" font-size="91.5" transform="translate(1180.1 318.3) scale(1 1.032)">N,Fe-CDs/G-WO<tspan font-size="52.5" dx="1" dy="32.3">3</tspan><tspan dx="17.5" dy="-32.3">-0.6</tspan></text>
<text class="s" font-size="98.8" transform="translate(364.3 695.4) scale(1 1.035)">3400</text>
<text class="s" font-size="98.8" transform="translate(1340.1 640.0) scale(1 1.035)">1675</text>
<text class="s" font-size="98.8" transform="translate(1572.2 670.0) scale(1 1.035)">1580</text>
<text class="s" font-size="98.8" transform="translate(1769.5 556.0) scale(1 1.035)">1400</text>
<text class="s" font-size="98.8" transform="translate(1971.0 630.0) scale(1 1.035)">1290</text>
<text class="s" font-size="88.5" transform="translate(1806.3 1387.3) scale(1 1.035)">C-N</text>
<text class="s" font-size="80.0" transform="translate(1935.0 1570.7) scale(1 1.035)">W-O</text>
<g class="t" font-size="99.5">
<text x="658.5" y="732.4">3210</text>
<text x="902.5" y="673.3">2845</text>
</g>
<line x1="541.7" y1="735.0" x2="597.5" y2="815.9" stroke="#000" stroke-width="2.5"/><polygon points="618.0,845.5 588.9,821.8 606.2,809.9" fill="#000"/>
<line x1="747.6" y1="761.5" x2="747.6" y2="810.0" stroke="#000" stroke-width="2.5"/><polygon points="747.6,850.0 737.1,810.0 758.1,810.0" fill="#000"/>
<line x1="962.9" y1="715.0" x2="962.9" y2="757.0" stroke="#000" stroke-width="2.5"/><polygon points="962.9,797.0 952.4,757.0 973.4,757.0" fill="#000"/>
<line x1="1537.9" y1="661.4" x2="1597.6" y2="810.1" stroke="#000" stroke-width="2.5"/><polygon points="1612.5,847.2 1587.9,814.0 1607.3,806.2" fill="#000"/>
<line x1="1664.2" y1="696.7" x2="1664.2" y2="776.9" stroke="#000" stroke-width="2.5"/><polygon points="1664.2,816.9 1653.7,776.9 1674.7,776.9" fill="#000"/>
<line x1="1836.7" y1="585.0" x2="1773.0" y2="760.4" stroke="#000" stroke-width="2.5"/><polygon points="1759.4,798.0 1763.2,756.8 1782.9,764.0" fill="#000"/>
<line x1="1941.7" y1="641.7" x2="1862.8" y2="733.0" stroke="#000" stroke-width="2.5"/><polygon points="1836.7,763.3 1854.9,726.2 1870.8,739.9" fill="#000"/>
<line x1="1831.6" y1="1325.4" x2="1817.2" y2="1313.0" stroke="#000" stroke-width="2.5"/><polygon points="1787.0,1286.8 1824.1,1305.0 1810.4,1320.9" fill="#000"/>
<line x1="2013.3" y1="1508.3" x2="2055.8" y2="1462.8" stroke="#000" stroke-width="2.1"/><polygon points="2081.7,1435.0 2062.9,1469.4 2048.6,1456.1" fill="#000"/>
<line x1="2110.0" y1="1531.7" x2="2162.5" y2="1499.7" stroke="#000" stroke-width="2.1"/><polygon points="2195.0,1480.0 2167.6,1508.1 2157.5,1491.4" fill="#000"/>
<g class="t" font-size="107.5" text-anchor="middle">
<text x="290.7" y="1760">4000</text>
<text x="575.4" y="1760">3500</text>
<text x="860.1" y="1760">3000</text>
<text x="1144.7" y="1760">2500</text>
<text x="1429.4" y="1760">2000</text>
<text x="1714.1" y="1760">1500</text>
<text x="1998.8" y="1760">1000</text>
<text x="2283.5" y="1760">500</text>
</g>
<text class="t" font-size="137.6" x="746" y="1930">Wavenumber <tspan x="1585.5" y="1933.8" font-size="92" font-weight="normal">(</tspan><tspan x="1613" y="1930" font-size="135.2">cm</tspan><tspan x="1786" y="1865" font-size="86">-<tspan dx="-2">1</tspan></tspan><tspan x="1856.3" y="1933.8" font-size="92" font-weight="normal">)</tspan></text>
<text class="t" font-size="136.2" transform="translate(131.5 1456) rotate(-90)">Transmitance (%)</text>
</svg></body></html>
